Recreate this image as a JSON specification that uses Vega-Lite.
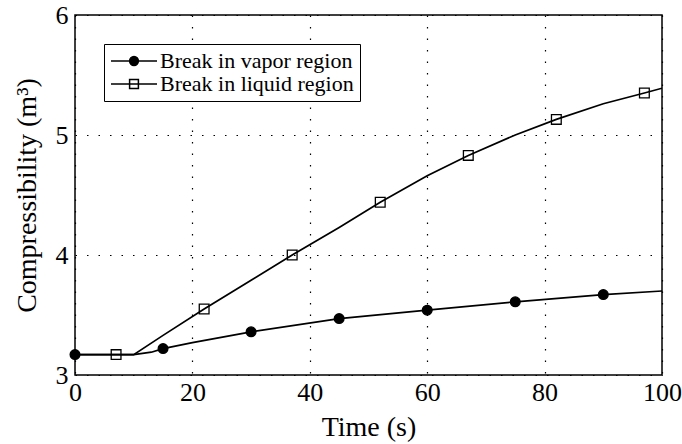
{
  "$schema": "https://vega.github.io/schema/vega-lite/v6.json",
  "width": 587,
  "height": 360,
  "autosize": "none",
  "padding": {"left": 75, "top": 15, "right": 20, "bottom": 69},
  "background": "white",
  "config": {
    "view": {"stroke": "black", "strokeWidth": 1.5},
    "font": "Liberation Serif",
    "axis": {
      "grid": true,
      "gridColor": "black",
      "gridDash": [1.5, 10],
      "gridWidth": 1.2,
      "gridOpacity": 1,
      "ticks": false,
      "domain": false,
      "labelFlush": false,
      "labelColor": "black",
      "titleColor": "black",
      "labelFont": "Liberation Serif",
      "titleFont": "Liberation Serif",
      "labelFontSize": 26,
      "titleFontSize": 28,
      "titleFontWeight": "normal"
    }
  },
  "datasets": {
    "lines": [
      {"series": "Break in vapor region", "t": 0, "v": 3.17},
      {"series": "Break in vapor region", "t": 10, "v": 3.17},
      {"series": "Break in vapor region", "t": 13, "v": 3.19},
      {"series": "Break in vapor region", "t": 15, "v": 3.22},
      {"series": "Break in vapor region", "t": 20, "v": 3.27},
      {"series": "Break in vapor region", "t": 30, "v": 3.36},
      {"series": "Break in vapor region", "t": 45, "v": 3.47},
      {"series": "Break in vapor region", "t": 60, "v": 3.54},
      {"series": "Break in vapor region", "t": 75, "v": 3.61},
      {"series": "Break in vapor region", "t": 90, "v": 3.67},
      {"series": "Break in vapor region", "t": 100, "v": 3.70},
      {"series": "Break in liquid region", "t": 0, "v": 3.17},
      {"series": "Break in liquid region", "t": 10, "v": 3.17},
      {"series": "Break in liquid region", "t": 15, "v": 3.33},
      {"series": "Break in liquid region", "t": 22, "v": 3.55},
      {"series": "Break in liquid region", "t": 30, "v": 3.79},
      {"series": "Break in liquid region", "t": 37, "v": 4.0},
      {"series": "Break in liquid region", "t": 45, "v": 4.23},
      {"series": "Break in liquid region", "t": 52, "v": 4.44},
      {"series": "Break in liquid region", "t": 60, "v": 4.66},
      {"series": "Break in liquid region", "t": 67, "v": 4.83},
      {"series": "Break in liquid region", "t": 75, "v": 5.0},
      {"series": "Break in liquid region", "t": 82, "v": 5.13},
      {"series": "Break in liquid region", "t": 90, "v": 5.26},
      {"series": "Break in liquid region", "t": 97, "v": 5.35},
      {"series": "Break in liquid region", "t": 100, "v": 5.39}
    ],
    "markers": [
      {"series": "Break in vapor region", "t": 0, "v": 3.17},
      {"series": "Break in vapor region", "t": 15, "v": 3.22},
      {"series": "Break in vapor region", "t": 30, "v": 3.36},
      {"series": "Break in vapor region", "t": 45, "v": 3.47},
      {"series": "Break in vapor region", "t": 60, "v": 3.54},
      {"series": "Break in vapor region", "t": 75, "v": 3.61},
      {"series": "Break in vapor region", "t": 90, "v": 3.67},
      {"series": "Break in liquid region", "t": 7, "v": 3.17},
      {"series": "Break in liquid region", "t": 22, "v": 3.55},
      {"series": "Break in liquid region", "t": 37, "v": 4.0},
      {"series": "Break in liquid region", "t": 52, "v": 4.44},
      {"series": "Break in liquid region", "t": 67, "v": 4.83},
      {"series": "Break in liquid region", "t": 82, "v": 5.13},
      {"series": "Break in liquid region", "t": 97, "v": 5.35}
    ]
  },
  "resolve": {"scale": {"shape": "independent", "fill": "independent"}, "legend": {"shape": "independent", "fill": "independent"}},
  "layer": [
    {
      "data": {"name": "lines"},
      "mark": {"type": "line", "color": "black", "strokeWidth": 1.7, "clip": true},
      "encoding": {
        "x": {"field": "t", "type": "quantitative", "scale": {"domain": [0, 100], "nice": false},
          "axis": {"values": [0, 20, 40, 60, 80, 100], "title": "Time (s)", "labelPadding": 4, "titlePadding": 8}},
        "y": {"field": "v", "type": "quantitative", "scale": {"domain": [3, 6], "nice": false, "zero": false},
          "axis": {"values": [3, 4, 5, 6], "format": "d", "title": "Compressibility (m³)", "labelPadding": 7, "titlePadding": 14}},
        "detail": {"field": "series"}
      }
    },
    {
      "data": {"name": "markers"},
      "mark": {"type": "point", "filled": true, "stroke": "black", "strokeWidth": 1.3, "size": 95, "opacity": 1, "clip": false},
      "encoding": {
        "x": {"field": "t", "type": "quantitative"},
        "y": {"field": "v", "type": "quantitative"},
        "shape": {
          "field": "series", "type": "nominal",
          "scale": {"domain": ["Break in vapor region", "Break in liquid region"], "range": ["circle", "square"]},
          "legend": null
        },
        "fill": {
          "field": "series", "type": "nominal",
          "scale": {"domain": ["Break in vapor region", "Break in liquid region"], "range": ["black", "transparent"]},
          "legend": null
        }
      }
    },
    {
      "data": {"name": "markers"},
      "transform": [{"filter": "datum.t < 0"}],
      "mark": {"type": "point", "filled": false, "color": "black", "stroke": "black", "strokeWidth": 1.5, "opacity": 1},
      "encoding": {
        "x": {"field": "t", "type": "quantitative"},
        "y": {"field": "v", "type": "quantitative"},
        "shape": {
          "field": "series", "type": "nominal",
          "scale": {"domain": ["Break in vapor region", "Break in liquid region"],
            "range": ["M-2.3,0L2.3,0M-0.44,0A0.44,0.44 0 1,1 0.44,0A0.44,0.44 0 1,1 -0.44,0Z", "M-2.3,0L2.3,0M-0.44,-0.44L0.44,-0.44L0.44,0.44L-0.44,0.44Z"]},
          "legend": {
            "orient": "none", "legendX": 29, "legendY": 29, "title": null,
            "strokeColor": "black", "fillColor": "white", "padding": 6,
            "symbolSize": 400, "symbolOffset": 13, "symbolStrokeWidth": 1.5, "symbolOpacity": 1,
            "labelFont": "Liberation Serif", "labelFontSize": 22, "labelColor": "black", "labelOffset": 15, "rowPadding": 1, "labelLimit": 400
          }
        },
        "fill": {
          "field": "series", "type": "nominal",
          "scale": {"domain": ["Break in vapor region", "Break in liquid region"], "range": ["black", "transparent"]},
          "legend": {
            "orient": "none", "legendX": 29, "legendY": 29, "title": null,
            "strokeColor": "black", "fillColor": "white", "padding": 6,
            "symbolSize": 400, "symbolOffset": 13, "symbolStrokeWidth": 1.5, "symbolOpacity": 1,
            "labelFont": "Liberation Serif", "labelFontSize": 22, "labelColor": "black", "labelOffset": 15, "rowPadding": 1, "labelLimit": 400
          }
        }
      }
    }
  ]
}
